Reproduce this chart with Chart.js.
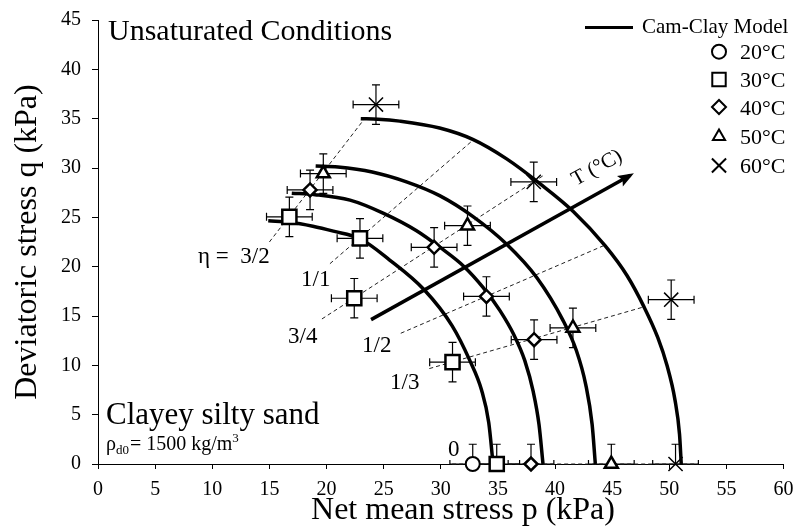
<!DOCTYPE html>
<html>
<head>
<meta charset="utf-8">
<script src="https://cdn.jsdelivr.net/npm/chart.js@4.4.1/dist/chart.umd.min.js"></script>
<style>
  html, body { margin: 0; padding: 0; background: #fff; }
</style>
</head>
<body>
<canvas id="myChart" width="796" height="527"></canvas>
<script>
// measured points, p (kPa) and q (kPa)
var p20 = [32.8];
var q20 = [0];
var p30 = [16.75, 22.93, 22.43, 31.03, 34.9];
var q30 = [25.05, 22.87, 16.8, 10.32, 0];
var p40 = [18.56, 29.42, 34.0, 38.17, 37.9];
var q40 = [27.78, 21.96, 16.98, 12.6, 0];
var p50 = [19.72, 32.34, 41.57, 44.93];
var q50 = [29.43, 24.15, 13.79, 0];
var p60 = [24.33, 38.14, 50.17, 50.55];
var q60 = [36.43, 28.59, 16.65, 0];

// error bars (+/-)
var err20 = [2];
var err30 = [2, 2, 2, 2, 2];
var err40 = [2, 2, 2, 2, 2];
var err50 = [2, 2, 2, 2];
var err60 = [2, 2, 2, 2];

// Cam-Clay yield curves
var cc1P = [14.9, 16.8, 18.8, 20.6, 22.9, 25.5, 28.55, 31.0, 32.54, 33.57, 34.2, 34.58];
var cc1Q = [24.65, 24.5, 24.1, 23.6, 22.85, 20.7, 17.66, 14.0, 10.5, 7.5, 4.2, 0];
var cc2P = [16.96, 19.0, 22.06, 25.0, 27.88, 30.0, 32.05, 33.7, 35.17, 36.4, 37.35, 38.1, 38.6, 38.95];
var cc2Q = [27.45, 27.3, 26.74, 25.4, 23.64, 21.9, 20.0, 17.9, 15.57, 13.1, 10.5, 7.3, 4.0, 0];
var cc3P = [19.05, 21.0, 24.0, 27.0, 29.9, 32.8, 35.75, 38.4, 40.7, 41.87, 42.7, 43.25, 43.53];
var cc3Q = [30.2, 30.1, 29.6, 28.6, 27.2, 25.1, 22.3, 18.9, 14.56, 11.5, 8.0, 4.0, 0];
var cc4P = [23.0, 24.5, 26.4, 29.9, 32.8, 35.8, 38.7, 41.6, 44.4, 46.3, 47.8, 49.0, 49.8, 50.5, 50.9, 51.05];
var cc4Q = [35.0, 34.95, 34.75, 34.05, 32.9, 30.9, 28.4, 25.6, 22.1, 19.1, 15.9, 12.8, 10.0, 6.5, 3.0, 0];

// stress ratio lines (eta = q/p)
var eta32P = [15.0, 23.4];
var eta32Q = [22.5, 35.1];
var eta11P = [20.3, 32.8];
var eta11Q = [20.3, 32.8];
var eta34P = [19.6, 39.0];
var eta34Q = [14.7, 29.25];
var eta12P = [26.5, 44.4];
var eta12Q = [13.25, 22.2];
var eta13P = [29.0, 47.8];
var eta13Q = [9.67, 15.93];
var eta0P = [31.0, 52.5];
var eta0Q = [0, 0];

// temperature arrow
var arrowP = [23.9, 46.6];
var arrowQ = [14.63, 29.26];

var FONT = "'Liberation Serif', 'DejaVu Serif', serif";

function pts(px, qy) {
  return px.map((v, i) => ({ x: v, y: qy[i] }));
}

var markerSeries = [
  { label: '20°C', p: p20, q: q20, e: err20, style: 'circle', r: 7, bw: 2 },
  { label: '30°C', p: p30, q: q30, e: err30, style: 'rect', r: 10, bw: 2.5 },
  { label: '40°C', p: p40, q: q40, e: err40, style: 'rectRot', r: 6.5, bw: 2.5 },
  { label: '50°C', p: p50, q: q50, e: err50, style: 'triangle', r: 7.5, bw: 2.5 },
  { label: '60°C', p: p60, q: q60, e: err60, style: 'crossRot', r: 10, bw: 1.5 },
];

var datasets = [];
markerSeries.forEach(s => {
  datasets.push({
    label: s.label,
    data: pts(s.p, s.q),
    pointStyle: s.style,
    pointRadius: s.r,
    pointBorderWidth: s.bw,
    pointBackgroundColor: '#fff',
    pointBorderColor: '#000',
    showLine: false,
    clip: false,
  });
});

[[cc1P, cc1Q], [cc2P, cc2Q], [cc3P, cc3Q], [cc4P, cc4Q]].forEach(c => {
  datasets.push({
    label: 'Cam-Clay Model',
    data: pts(c[0], c[1]),
    showLine: true,
    borderColor: '#000',
    borderWidth: 3.5,
    pointRadius: 0,
    cubicInterpolationMode: 'monotone',
    clip: false,
  });
});

[[eta32P, eta32Q], [eta11P, eta11Q], [eta34P, eta34Q], [eta12P, eta12Q], [eta13P, eta13Q], [eta0P, eta0Q]].forEach(l => {
  datasets.push({
    label: 'eta',
    data: pts(l[0], l[1]),
    showLine: true,
    borderColor: '#222',
    borderWidth: 1,
    borderDash: [4, 3],
    pointRadius: 0,
    clip: false,
  });
});

datasets.push({
  label: 'T',
  data: pts(arrowP, arrowQ),
  showLine: true,
  borderColor: '#000',
  borderWidth: 3.5,
  pointRadius: 0,
});

const errorBars = {
  id: 'errorBars',
  beforeDatasetsDraw(chart) {
    const { ctx, chartArea } = chart;
    const x = chart.scales.x, y = chart.scales.y;
    ctx.save();
    ctx.beginPath();
    ctx.rect(chartArea.left, chartArea.top - 30, chartArea.width + 30, chartArea.height + 30);
    ctx.clip();
    ctx.strokeStyle = '#000';
    ctx.lineWidth = 1.2;
    const cap = 4;
    markerSeries.forEach(s => {
      s.p.forEach((pv, i) => {
        const qv = s.q[i];
        const cx = x.getPixelForValue(pv), cy = y.getPixelForValue(qv);
        const x0 = x.getPixelForValue(pv - s.e[i]), x1 = x.getPixelForValue(pv + s.e[i]);
        const y0 = y.getPixelForValue(qv - s.e[i]), y1 = y.getPixelForValue(qv + s.e[i]);
        ctx.beginPath();
        ctx.moveTo(x0, cy); ctx.lineTo(x1, cy);
        ctx.moveTo(x0, cy - cap); ctx.lineTo(x0, cy + cap);
        ctx.moveTo(x1, cy - cap); ctx.lineTo(x1, cy + cap);
        ctx.moveTo(cx, y0); ctx.lineTo(cx, y1);
        ctx.moveTo(cx - cap, y0); ctx.lineTo(cx + cap, y0);
        ctx.moveTo(cx - cap, y1); ctx.lineTo(cx + cap, y1);
        ctx.stroke();
      });
    });
    ctx.restore();
  }
};

const extras = {
  id: 'extras',
  afterDraw(chart) {
    const { ctx } = chart;
    const x = chart.scales.x, y = chart.scales.y;
    ctx.save();

    // arrow head
    const ax0 = x.getPixelForValue(arrowP[0]), ay0 = y.getPixelForValue(arrowQ[0]);
    const ax1 = x.getPixelForValue(arrowP[1]), ay1 = y.getPixelForValue(arrowQ[1]);
    const ang = Math.atan2(ay1 - ay0, ax1 - ax0);
    ctx.translate(ax1, ay1);
    ctx.rotate(ang);
    ctx.fillStyle = '#000';
    ctx.beginPath();
    ctx.moveTo(4, 0);
    ctx.lineTo(-12, -6);
    ctx.lineTo(-9, 0);
    ctx.lineTo(-12, 6);
    ctx.closePath();
    ctx.fill();
    ctx.setTransform(1, 0, 0, 1, 0, 0);

    ctx.fillStyle = '#000';
    ctx.textBaseline = 'alphabetic';
    ctx.textAlign = 'left';

    ctx.font = '30px ' + FONT;
    ctx.fillText('Unsaturated Conditions', 108, 40);
    ctx.font = '31px ' + FONT;
    ctx.fillText('Clayey silty sand', 106, 424);

    // rho_d0 = 1500 kg/m3
    let cx = 106;
    const base = 450;
    ctx.font = '20px ' + FONT;
    ctx.fillText('ρ', cx, base);
    cx += ctx.measureText('ρ').width;
    ctx.font = '13px ' + FONT;
    ctx.fillText('d0', cx, base + 4);
    cx += ctx.measureText('d0').width + 1;
    ctx.font = '20px ' + FONT;
    ctx.fillText('= 1500 kg/m', cx, base);
    cx += ctx.measureText('= 1500 kg/m').width;
    ctx.font = '13px ' + FONT;
    ctx.fillText('3', cx, base - 8);

    // eta labels
    ctx.font = '23px ' + FONT;
    ctx.fillText('η =  3/2', 198, 263);
    ctx.fillText('1/1', 301, 286);
    ctx.fillText('3/4', 288, 343);
    ctx.fillText('1/2', 362, 352);
    ctx.fillText('1/3', 390, 389);
    ctx.fillText('0', 448, 456);

    // T label
    ctx.save();
    ctx.translate(597, 168);
    ctx.rotate(-29.2 * Math.PI / 180);
    ctx.textAlign = 'center';
    ctx.textBaseline = 'middle';
    ctx.font = '21px ' + FONT;
    ctx.fillText('T (°C)', 0, 0);
    ctx.restore();

    // axis titles
    ctx.font = '32px ' + FONT;
    ctx.textAlign = 'center';
    ctx.fillText('Net mean stress p (kPa)', 463, 519);
    ctx.save();
    ctx.translate(36, 242);
    ctx.rotate(-Math.PI / 2);
    ctx.fillText('Deviatoric stress q (kPa)', 0, 0);
    ctx.restore();

    // legend
    ctx.textAlign = 'left';
    ctx.strokeStyle = '#000';
    ctx.lineWidth = 3;
    ctx.beginPath();
    ctx.moveTo(585, 27.5);
    ctx.lineTo(633, 27.5);
    ctx.stroke();
    ctx.font = '21px ' + FONT;
    ctx.fillText('Cam-Clay Model', 642, 33);
    const rows = [51.7, 79.5, 107, 136.5, 165.5];
    ctx.font = '22px ' + FONT;
    markerSeries.forEach((s, i) => {
      ctx.fillStyle = '#fff';
      ctx.strokeStyle = '#000';
      ctx.lineWidth = 2;
      Chart.helpers.drawPoint(ctx, {
        pointStyle: s.style,
        radius: s.style === 'rect' ? 9.5 : (s.style === 'crossRot' ? 10 : 7),
        rotation: 0,
        borderWidth: 2,
      }, 719, rows[i]);
      ctx.fillStyle = '#000';
      ctx.fillText(s.label, 740, rows[i] + 7.5);
    });

    ctx.restore();
  }
};

new Chart(document.getElementById('myChart'), {
  type: 'scatter',
  data: { datasets: datasets },
  options: {
    responsive: false,
    animation: false,
    layout: { padding: { top: 20, right: 10, left: 0, bottom: 0 } },
    plugins: {
      legend: { display: false },
      tooltip: { enabled: false },
    },
    scales: {
      x: {
        type: 'linear',
        min: 0,
        max: 60,
        ticks: { stepSize: 5, color: '#000', font: { family: FONT, size: 20 }, padding: 9, maxRotation: 0 },
        grid: { drawOnChartArea: false, drawTicks: true, tickLength: 5, color: '#000' },
        border: { display: true, color: '#000', width: 1 },
        afterFit: (s) => { s.height = 63; s.paddingLeft = 0; s.paddingRight = 0; },
      },
      y: {
        type: 'linear',
        min: 0,
        max: 45,
        ticks: { stepSize: 5, color: '#000', font: { family: FONT, size: 20 }, padding: 11 },
        grid: { drawOnChartArea: false, drawTicks: true, tickLength: 6, color: '#000' },
        border: { display: true, color: '#000', width: 1 },
        afterFit: (s) => { s.width = 98; s.paddingTop = 0; s.paddingBottom = 0; },
      },
    },
  },
  plugins: [errorBars, extras],
});
</script>
</body>
</html>
